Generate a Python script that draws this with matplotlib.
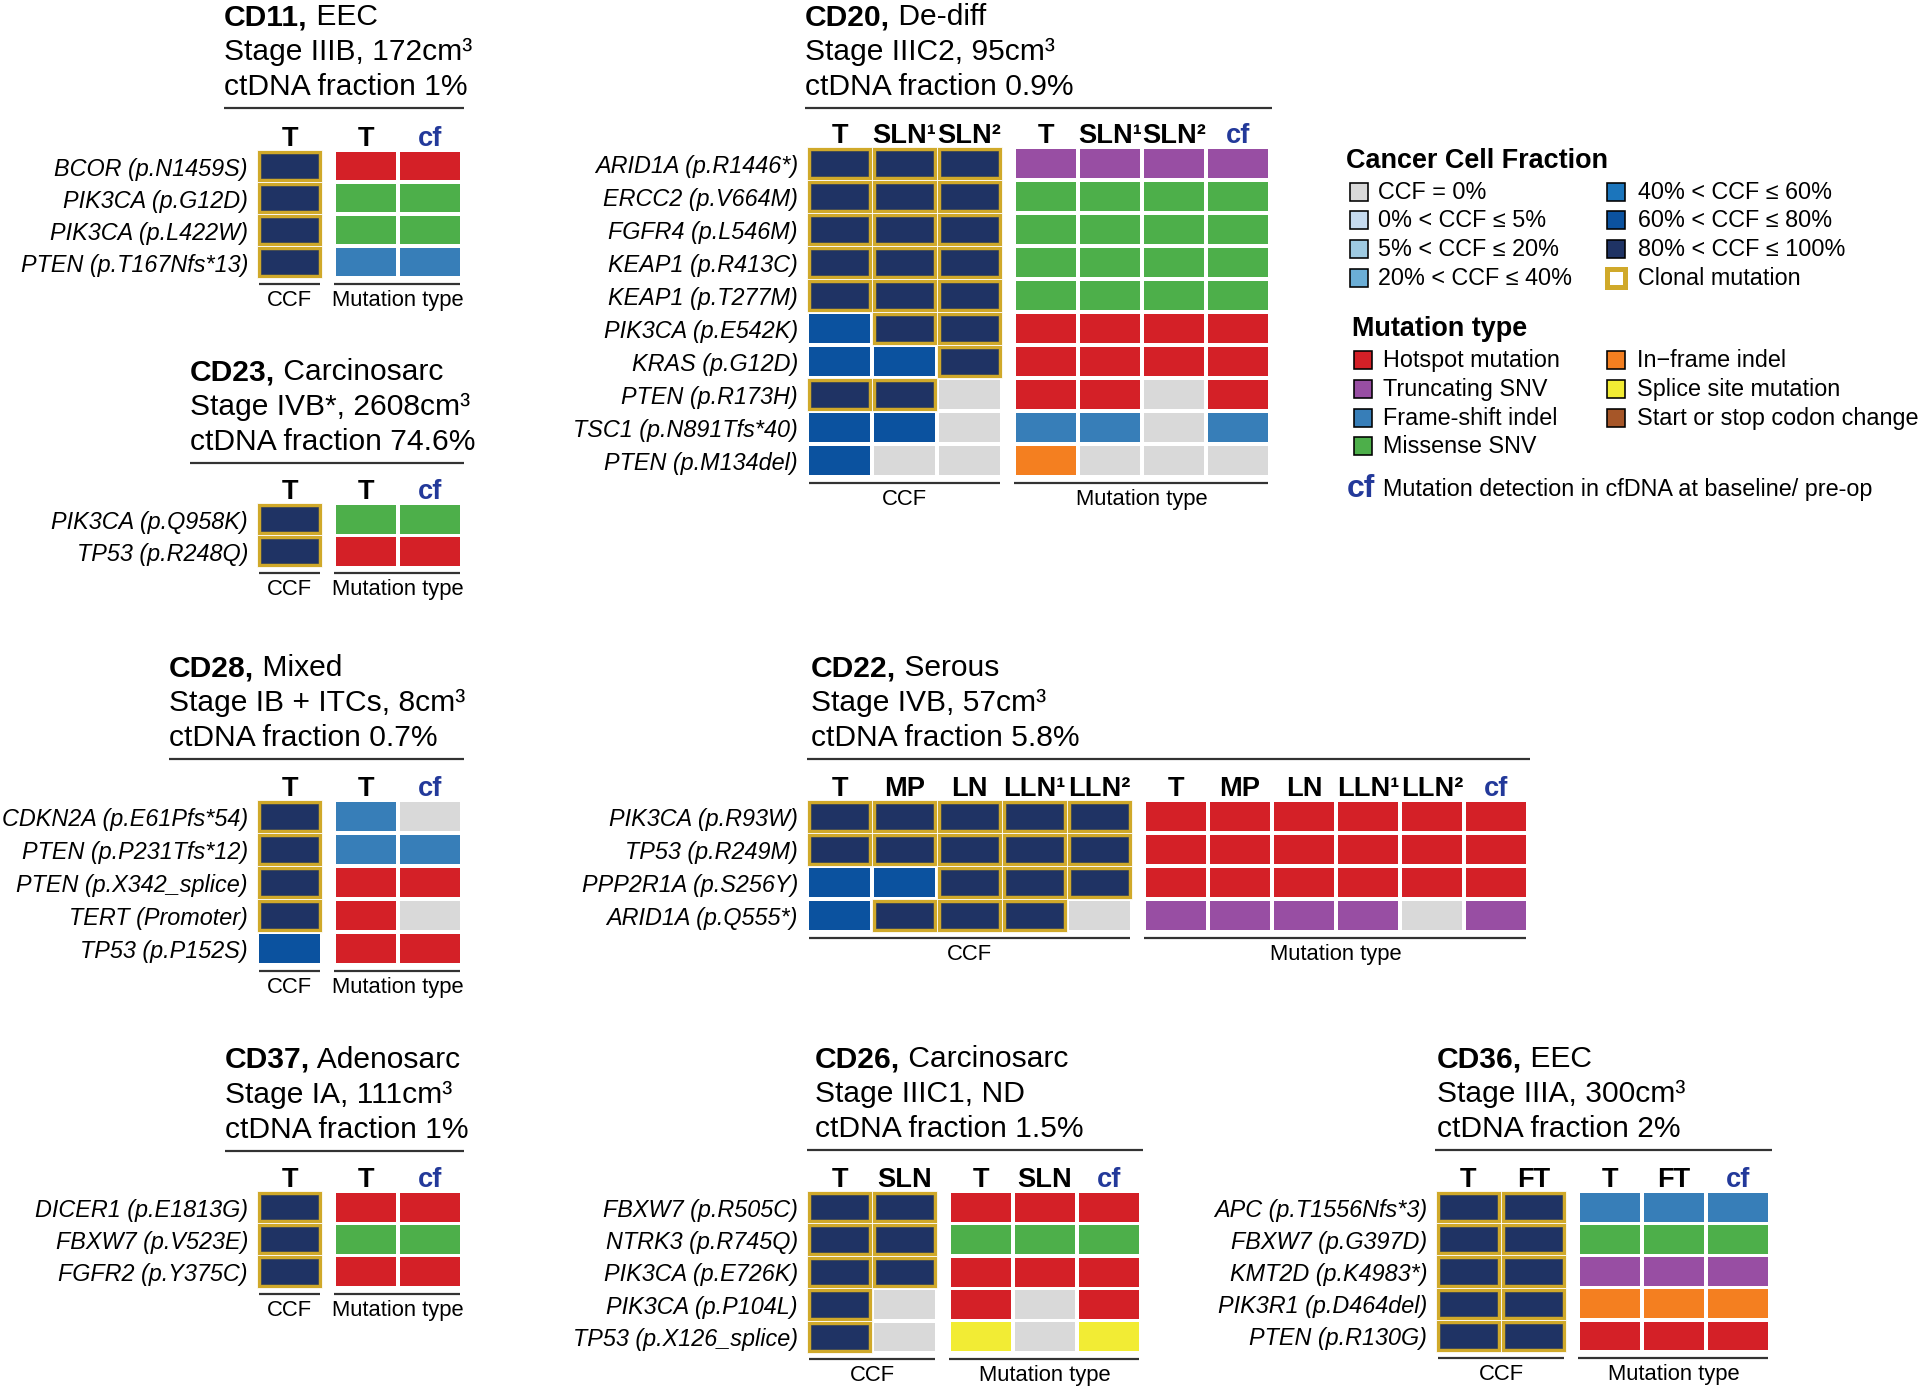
import matplotlib
matplotlib.use('Agg')
import matplotlib.pyplot as plt
from matplotlib.patches import Rectangle

plt.rcParams['font.family'] = ['Liberation Sans', 'DejaVu Sans']

# ---------------- colours ----------------
CCF_COLORS = ['#D9D9D9', '#C6DBEF', '#9ECAE1', '#6BAED6', '#1B75BC', '#0B529F', '#1F3364']
GOLD = '#D0A92A'
MUT_COLORS = {'hot': '#D42027', 'trunc': '#984EA3', 'fs': '#377EB8', 'mis': '#4DAF4A',
              'inf': '#F47F20', 'spl': '#F2EC34', 'ss': '#A65628', 'none': '#D9D9D9'}
CF_BLUE = '#23399A'

# ---------------- data ----------------
# CCF bins: 0 = 0%, 1 = 0-5%, 2 = 5-20%, 3 = 20-40%, 4 = 40-60%, 5 = 60-80%, 6 = 80-100%
cd11_title = ['CD11,', ' EEC', 'Stage IIIB, 172cm³', 'ctDNA fraction 1%']
cd11_genes = ['BCOR (p.N1459S)', 'PIK3CA (p.G12D)', 'PIK3CA (p.L422W)', 'PTEN (p.T167Nfs*13)']
cd11_ccf_cols = ['T']
cd11_ccf = [[6], [6], [6], [6]]
cd11_clonal = [[1], [1], [1], [1]]
cd11_mut_cols = ['T', 'cf']
cd11_mut = [['hot', 'hot'], ['mis', 'mis'], ['mis', 'mis'], ['fs', 'fs']]

cd23_title = ['CD23,', ' Carcinosarc', 'Stage IVB*, 2608cm³', 'ctDNA fraction 74.6%']
cd23_genes = ['PIK3CA (p.Q958K)', 'TP53 (p.R248Q)']
cd23_ccf_cols = ['T']
cd23_ccf = [[6], [6]]
cd23_clonal = [[1], [1]]
cd23_mut_cols = ['T', 'cf']
cd23_mut = [['mis', 'mis'], ['hot', 'hot']]

cd28_title = ['CD28,', ' Mixed', 'Stage IB + ITCs, 8cm³', 'ctDNA fraction 0.7%']
cd28_genes = ['CDKN2A (p.E61Pfs*54)', 'PTEN (p.P231Tfs*12)', 'PTEN (p.X342_splice)',
              'TERT (Promoter)', 'TP53 (p.P152S)']
cd28_ccf_cols = ['T']
cd28_ccf = [[6], [6], [6], [6], [5]]
cd28_clonal = [[1], [1], [1], [1], [0]]
cd28_mut_cols = ['T', 'cf']
cd28_mut = [['fs', 'none'], ['fs', 'fs'], ['hot', 'hot'], ['hot', 'none'], ['hot', 'hot']]

cd37_title = ['CD37,', ' Adenosarc', 'Stage IA, 111cm³', 'ctDNA fraction 1%']
cd37_genes = ['DICER1 (p.E1813G)', 'FBXW7 (p.V523E)', 'FGFR2 (p.Y375C)']
cd37_ccf_cols = ['T']
cd37_ccf = [[6], [6], [6]]
cd37_clonal = [[1], [1], [1]]
cd37_mut_cols = ['T', 'cf']
cd37_mut = [['hot', 'hot'], ['mis', 'mis'], ['hot', 'hot']]

cd20_title = ['CD20,', ' De-diff', 'Stage IIIC2, 95cm³', 'ctDNA fraction 0.9%']
cd20_genes = ['ARID1A (p.R1446*)', 'ERCC2 (p.V664M)', 'FGFR4 (p.L546M)', 'KEAP1 (p.R413C)',
              'KEAP1 (p.T277M)', 'PIK3CA (p.E542K)', 'KRAS (p.G12D)', 'PTEN (p.R173H)',
              'TSC1 (p.N891Tfs*40)', 'PTEN (p.M134del)']
cd20_ccf_cols = ['T', 'SLN¹', 'SLN²']
cd20_ccf = [[6, 6, 6], [6, 6, 6], [6, 6, 6], [6, 6, 6], [6, 6, 6],
            [5, 6, 6], [5, 5, 6], [6, 6, 0], [5, 5, 0], [5, 0, 0]]
cd20_clonal = [[1, 1, 1], [1, 1, 1], [1, 1, 1], [1, 1, 1], [1, 1, 1],
               [0, 1, 1], [0, 0, 1], [1, 1, 0], [0, 0, 0], [0, 0, 0]]
cd20_mut_cols = ['T', 'SLN¹', 'SLN²', 'cf']
cd20_mut = [['trunc'] * 4, ['mis'] * 4, ['mis'] * 4, ['mis'] * 4, ['mis'] * 4,
            ['hot'] * 4, ['hot'] * 4, ['hot', 'hot', 'none', 'hot'],
            ['fs', 'fs', 'none', 'fs'], ['inf', 'none', 'none', 'none']]

cd22_title = ['CD22,', ' Serous', 'Stage IVB, 57cm³', 'ctDNA fraction 5.8%']
cd22_genes = ['PIK3CA (p.R93W)', 'TP53 (p.R249M)', 'PPP2R1A (p.S256Y)', 'ARID1A (p.Q555*)']
cd22_ccf_cols = ['T', 'MP', 'LN', 'LLN¹', 'LLN²']
cd22_ccf = [[6, 6, 6, 6, 6], [6, 6, 6, 6, 6], [5, 5, 6, 6, 6], [5, 6, 6, 6, 0]]
cd22_clonal = [[1, 1, 1, 1, 1], [1, 1, 1, 1, 1], [0, 0, 1, 1, 1], [0, 1, 1, 1, 0]]
cd22_mut_cols = ['T', 'MP', 'LN', 'LLN¹', 'LLN²', 'cf']
cd22_mut = [['hot'] * 6, ['hot'] * 6, ['hot'] * 6,
            ['trunc', 'trunc', 'trunc', 'trunc', 'none', 'trunc']]

cd26_title = ['CD26,', ' Carcinosarc', 'Stage IIIC1, ND', 'ctDNA fraction 1.5%']
cd26_genes = ['FBXW7 (p.R505C)', 'NTRK3 (p.R745Q)', 'PIK3CA (p.E726K)', 'PIK3CA (p.P104L)',
              'TP53 (p.X126_splice)']
cd26_ccf_cols = ['T', 'SLN']
cd26_ccf = [[6, 6], [6, 6], [6, 6], [6, 0], [6, 0]]
cd26_clonal = [[1, 1], [1, 1], [1, 1], [1, 0], [1, 0]]
cd26_mut_cols = ['T', 'SLN', 'cf']
cd26_mut = [['hot'] * 3, ['mis'] * 3, ['hot'] * 3, ['hot', 'none', 'hot'], ['spl', 'none', 'spl']]

cd36_title = ['CD36,', ' EEC', 'Stage IIIA, 300cm³', 'ctDNA fraction 2%']
cd36_genes = ['APC (p.T1556Nfs*3)', 'FBXW7 (p.G397D)', 'KMT2D (p.K4983*)', 'PIK3R1 (p.D464del)',
              'PTEN (p.R130G)']
cd36_ccf_cols = ['T', 'FT']
cd36_ccf = [[6, 6]] * 5
cd36_clonal = [[1, 1]] * 5
cd36_mut_cols = ['T', 'FT', 'cf']
cd36_mut = [['fs'] * 3, ['mis'] * 3, ['trunc'] * 3, ['inf'] * 3, ['hot'] * 3]

legend_ccf_labels = ['CCF = 0%', '0% < CCF ≤ 5%', '5% < CCF ≤ 20%', '20% < CCF ≤ 40%',
                     '40% < CCF ≤ 60%', '60% < CCF ≤ 80%', '80% < CCF ≤ 100%']
legend_mut_keys = ['hot', 'trunc', 'fs', 'mis', 'inf', 'spl', 'ss']
legend_mut_labels = ['Hotspot mutation', 'Truncating SNV', 'Frame-shift indel', 'Missense SNV',
                     'In\u2212frame indel', 'Splice site mutation', 'Start or stop codon change']

# ---------------- layout ----------------
W, H = 1920, 1388
CP, MP, GAP = 65, 64, 12
PT = 0.72  # points per pixel at dpi 100

fig = plt.figure(figsize=(19.2, 13.88), dpi=100)
ax = fig.add_axes([0, 0, 1, 1])
ax.set_xlim(0, W)
ax.set_ylim(H, 0)
ax.axis('off')
renderer = fig.canvas.get_renderer()

TITLE_FS = 30 * PT
LABEL_FS = 23.4 * PT
HEAD_FS = 27.3 * PT
FOOT_FS = 22 * PT
LINE_C = '#333333'


def draw_panel(title, genes, ccf_cols, ccf, clonal, mut_cols, mut,
               ccf_x, top, rp, title_x, ul_x0, ul_y):
    nr, nc, nm = len(genes), len(ccf_cols), len(mut_cols)
    mut_x = ccf_x + nc * CP + GAP
    mut_end = mut_x + nm * MP
    # title lines
    t = ax.text(title_x, ul_y - 83, title[0], fontsize=TITLE_FS, fontweight='bold',
                ha='left', va='baseline')
    wpx = t.get_window_extent(renderer).width
    ax.text(title_x + wpx, ul_y - 83, title[1], fontsize=TITLE_FS, ha='left', va='baseline')
    ax.text(title_x, ul_y - 48, title[2], fontsize=TITLE_FS, ha='left', va='baseline')
    ax.text(title_x, ul_y - 13, title[3], fontsize=TITLE_FS, ha='left', va='baseline')
    ax.plot([ul_x0, mut_end + 2], [ul_y, ul_y], color=LINE_C, lw=2.2 * PT,
            solid_capstyle='butt')
    # headers
    for j, c in enumerate(ccf_cols):
        ax.text(ccf_x + (j + 0.5) * CP, top - 4, c, fontsize=HEAD_FS, fontweight='bold',
                ha='center', va='baseline')
    for k, c in enumerate(mut_cols):
        ax.text(mut_x + (k + 0.5) * MP, top - 4, c, fontsize=HEAD_FS, fontweight='bold',
                ha='center', va='baseline', color=CF_BLUE if c == 'cf' else 'black')
    # rows
    for i in range(nr):
        y = top + i * rp
        ax.text(ccf_x - 9, y + rp / 2 + 9.5, genes[i], fontsize=LABEL_FS, style='italic',
                ha='right', va='baseline')
        for j in range(nc):
            x = ccf_x + j * CP
            col = CCF_COLORS[ccf[i][j]]
            if clonal[i][j]:
                ax.add_patch(Rectangle((x, y), CP, rp, facecolor=GOLD, edgecolor='white',
                                       lw=0.8 * PT))
                ax.add_patch(Rectangle((x + 4.2, y + 4), CP - 8.4, rp - 8, facecolor=col,
                                       edgecolor='#2a3a5a', lw=0.6 * PT))
            else:
                ax.add_patch(Rectangle((x + 2, y + 2), CP - 4, rp - 4, facecolor=col,
                                       edgecolor='none'))
        for k in range(nm):
            x = mut_x + k * MP
            ax.add_patch(Rectangle((x + 2, y + 1.7), MP - 4, rp - 3.4,
                                   facecolor=MUT_COLORS[mut[i][k]], edgecolor='none'))
    # footer
    yb = top + nr * rp + 6
    ax.plot([ccf_x + 2, ccf_x + nc * CP - 2], [yb, yb], color=LINE_C, lw=2.2 * PT,
            solid_capstyle='butt')
    ax.plot([mut_x, mut_end - 2], [yb, yb], color=LINE_C, lw=2.2 * PT, solid_capstyle='butt')
    ax.text(ccf_x + nc * CP / 2, yb + 22, 'CCF', fontsize=FOOT_FS, ha='center', va='baseline')
    ax.text((mut_x + mut_end) / 2, yb + 22, 'Mutation type', fontsize=FOOT_FS, ha='center',
            va='baseline')


draw_panel(cd11_title, cd11_genes, cd11_ccf_cols, cd11_ccf, cd11_clonal, cd11_mut_cols, cd11_mut,
           257, 150, 32.0, 224, 224, 108)
draw_panel(cd23_title, cd23_genes, cd23_ccf_cols, cd23_ccf, cd23_clonal, cd23_mut_cols, cd23_mut,
           257, 503, 32.2, 190, 190, 463)
draw_panel(cd28_title, cd28_genes, cd28_ccf_cols, cd28_ccf, cd28_clonal, cd28_mut_cols, cd28_mut,
           257, 800, 33.0, 169, 169, 759)
draw_panel(cd37_title, cd37_genes, cd37_ccf_cols, cd37_ccf, cd37_clonal, cd37_mut_cols, cd37_mut,
           257, 1191, 32.2, 225, 225, 1151)
draw_panel(cd20_title, cd20_genes, cd20_ccf_cols, cd20_ccf, cd20_clonal, cd20_mut_cols, cd20_mut,
           807, 147, 33.0, 805, 805, 108)
draw_panel(cd22_title, cd22_genes, cd22_ccf_cols, cd22_ccf, cd22_clonal, cd22_mut_cols, cd22_mut,
           807, 800, 33.0, 811, 807, 759)
draw_panel(cd26_title, cd26_genes, cd26_ccf_cols, cd26_ccf, cd26_clonal, cd26_mut_cols, cd26_mut,
           807, 1191, 32.4, 815, 807, 1150)
draw_panel(cd36_title, cd36_genes, cd36_ccf_cols, cd36_ccf, cd36_clonal, cd36_mut_cols, cd36_mut,
           1436, 1191, 32.2, 1437, 1435, 1150)

# ---------------- legend ----------------
LEG_FS = 23.4 * PT
LEGT_FS = 27 * PT
BOX = 18
ax.text(1346, 161, 'Cancer Cell Fraction', fontsize=LEGT_FS, fontweight='bold', ha='left',
        va='center')
ccf_rows = [192, 220, 249, 278]
for idx, lab in enumerate(legend_ccf_labels):
    col = 0 if idx < 4 else 1
    r = idx if idx < 4 else idx - 4
    bx = 1350 if col == 0 else 1607
    tx = 1378 if col == 0 else 1638
    yc = ccf_rows[r]
    ax.add_patch(Rectangle((bx, yc - BOX / 2), BOX, BOX, facecolor=CCF_COLORS[idx],
                           edgecolor='black', lw=1.6 * PT))
    ax.text(tx, yc, lab, fontsize=LEG_FS, ha='left', va='center')
# clonal mutation key
yc = ccf_rows[3]
ax.add_patch(Rectangle((1607, yc - BOX / 2), BOX, BOX, facecolor='white', edgecolor=GOLD,
                       lw=5 * PT))
ax.text(1638, yc, 'Clonal mutation', fontsize=LEG_FS, ha='left', va='center')

ax.text(1352, 329, 'Mutation type', fontsize=LEGT_FS, fontweight='bold', ha='left', va='center')
mut_rows = [360, 389, 418, 446]
for idx, (key, lab) in enumerate(zip(legend_mut_keys, legend_mut_labels)):
    col = 0 if idx < 4 else 1
    r = idx if idx < 4 else idx - 4
    bx = 1354 if col == 0 else 1607
    tx = 1383 if col == 0 else 1637
    yc = mut_rows[r]
    ax.add_patch(Rectangle((bx, yc - BOX / 2), BOX, BOX, facecolor=MUT_COLORS[key],
                           edgecolor='black', lw=1.6 * PT))
    ax.text(tx, yc, lab, fontsize=LEG_FS, ha='left', va='center')

ax.text(1347, 489, 'cf', fontsize=32 * PT, fontweight='bold', color=CF_BLUE, ha='left',
        va='center')
ax.text(1383, 489, 'Mutation detection in cfDNA at baseline/ pre-op', fontsize=LEG_FS,
        ha='left', va='center')

fig.savefig('out.png', dpi=100, facecolor='white')
